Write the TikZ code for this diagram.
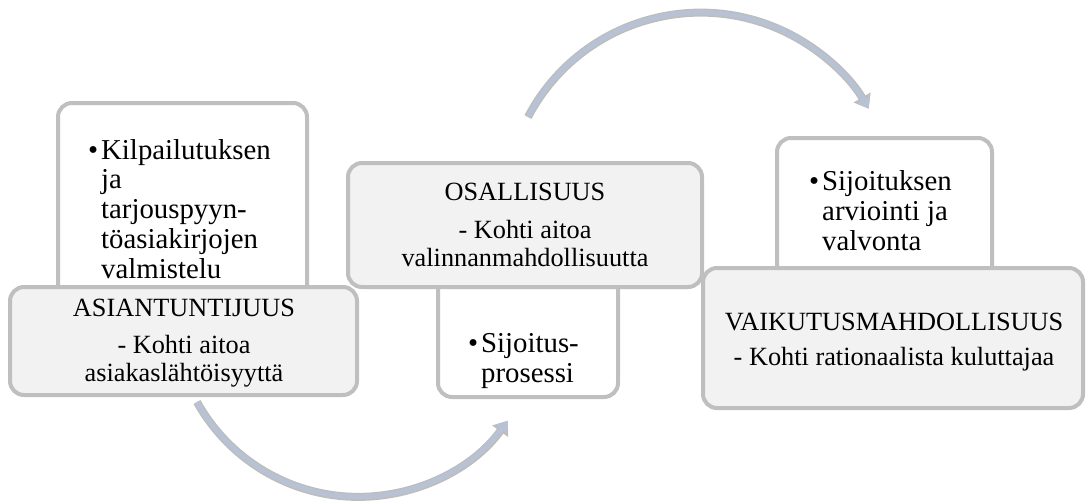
\documentclass[tikz,border=0pt]{standalone}
\usepackage{fontspec}
\setmainfont{Liberation Serif}
\usetikzlibrary{arrows.meta}

\definecolor{boxline}{HTML}{BFBFBF}
\definecolor{boxfill}{HTML}{F2F2F2}
\definecolor{arrowfill}{HTML}{B8C2D5}
\definecolor{arrowedge}{HTML}{BDBDBD}

\tikzset{
  panel/.style={draw=boxline, line width=4pt, rounded corners=14pt, inner sep=0pt},
  whitepanel/.style={panel, fill=white},
  graypanel/.style={panel, fill=boxfill},
  itemtext/.style={inner sep=0pt, align=left, font=\fontsize{28.8}{29.7}\selectfont},
  headtext/.style={inner sep=0pt, align=center, font=\fontsize{26.3}{28}\selectfont},
  flowback/.style={draw=arrowedge, line width=8pt, -{Triangle[length=13pt,width=19pt]}},
  flowfront/.style={draw=arrowfill, line width=5pt, -{Triangle[length=10pt,width=14pt]}}
}

\newcommand{\bul}{\llap{\textbullet\hspace{3pt}}}

% text nodes are placed by the baseline of their last line
\begin{document}
\begin{tikzpicture}[x=1pt,y=-1pt]
  \useasboundingbox (0,0) rectangle (1086,501);

  % left column
  \node[whitepanel, minimum width=249pt, minimum height=217pt] (w1) at (182.5,211.5) {};
  \node[itemtext, anchor=base west] (w1t) at (101,278)
    {\bul Kilpailutuksen\\ja\\tarjouspyyn-\\töasiakirjojen\\valmistelu};
  \node[graypanel, minimum width=347pt, minimum height=108pt] (g1) at (183.5,341) {};
  \node[headtext, anchor=base] (g1t) at (184,381)
    {ASIANTUNTIJUUS\\[9pt]- Kohti aitoa\\asiakaslähtöisyyttä};

  % middle column
  \node[whitepanel, minimum width=180pt, minimum height=147pt] (w2) at (528,323.5) {};
  \node[itemtext, anchor=base west] (w2t) at (481,382) {\bul Sijoitus-\\prosessi};
  \node[graypanel, minimum width=354pt, minimum height=124pt] (g2) at (525,225) {};
  \node[headtext, anchor=base] (g2t) at (525,266)
    {OSALLISUUS\\[10pt]- Kohti aitoa\\valinnanmahdollisuutta};

  % right column
  \node[whitepanel, minimum width=215pt, minimum height=162pt] (w3) at (884.5,219) {};
  \node[itemtext, anchor=base west] (w3t) at (822,250)
    {\bul Sijoituksen\\arviointi ja\\valvonta};
  \node[graypanel, minimum width=380pt, minimum height=140pt] (g3) at (893,338) {};
  \node[headtext, anchor=base] (g3t) at (894,365)
    {VAIKUTUSMAHDOLLISUUS\\[7pt]- Kohti rationaalista kuluttajaa};

  % curved flow arrows
  \coordinate (c1) at (197,402);
  \coordinate (c2) at (528,117);
  \draw[flowback]  (c1) arc[start angle=150.9, end angle=36, radius=184.7];
  \draw[flowfront] (c1) arc[start angle=150.9, end angle=36, radius=184.7];
  \draw[flowback]  (c2) arc[start angle=207.7, end angle=329.5, radius=195];
  \draw[flowfront] (c2) arc[start angle=207.7, end angle=329.5, radius=195];
\end{tikzpicture}
\end{document}
